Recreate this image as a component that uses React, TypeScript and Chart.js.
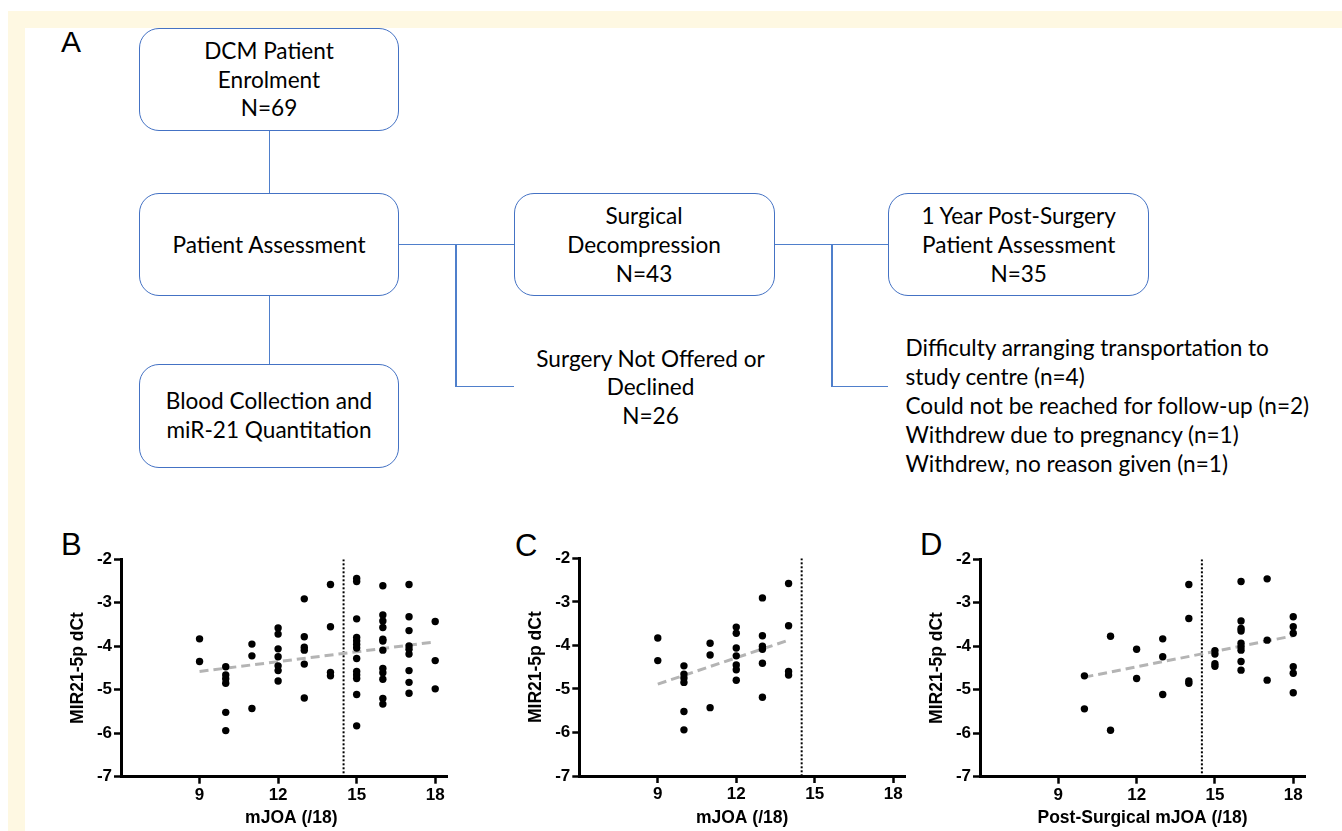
import React, { useEffect, useRef } from 'react';
import { Chart, registerables } from 'chart.js';

Chart.register(...registerables);

// ---------------- data ----------------
const xTickValues = [9, 12, 15, 18];
const yTickValues = [-7, -6, -5, -4, -3, -2];
const cutoffMJOA = 14.5;

// Panel B: all patients, pre-operative mJOA vs MIR21-5p dCt
const panelBX = [
  9, 9,
  10, 10, 10, 10, 10, 10,
  11, 11, 11,
  12, 12, 12, 12, 12, 12, 12,
  13, 13, 13, 13, 13, 13,
  14, 14, 14, 14,
  15, 15, 15, 15, 15, 15, 15, 15, 15, 15, 15, 15, 15,
  16, 16, 16, 16, 16, 16, 16, 16, 16, 16, 16, 16,
  17, 17, 17, 17, 17, 17, 17, 17, 17,
  18, 18, 18,
];
const panelBY = [
  -3.83, -4.35,
  -4.47, -4.66, -4.75, -4.85, -5.52, -5.94,
  -3.95, -4.22, -5.43,
  -3.58, -3.72, -4.06, -4.24, -4.45, -4.56, -4.80,
  -2.91, -3.78, -4.02, -4.09, -4.41, -5.19,
  -2.58, -3.55, -4.60, -4.68,
  -2.44, -2.51, -3.37, -3.80, -3.88, -3.96, -4.04, -4.28, -4.58, -4.66, -4.74, -5.11, -5.83,
  -2.61, -3.28, -3.42, -3.57, -3.84, -3.88, -4.09, -4.51, -4.61, -4.76, -5.20, -5.33,
  -2.58, -3.32, -3.64, -3.99, -4.07, -4.18, -4.56, -4.83, -5.08,
  -3.43, -4.33, -4.98,
];
const panelBFitX = [9, 18];
const panelBFitY = [-4.58, -3.9];

// Panel C: patients with mJOA <= 14
const panelCX = [
  9, 9,
  10, 10, 10, 10, 10, 10,
  11, 11, 11,
  12, 12, 12, 12, 12, 12, 12,
  13, 13, 13, 13, 13, 13,
  14, 14, 14, 14,
];
const panelCY = [
  -3.83, -4.35,
  -4.47, -4.66, -4.75, -4.85, -5.52, -5.94,
  -3.95, -4.22, -5.43,
  -3.58, -3.72, -4.06, -4.24, -4.45, -4.56, -4.80,
  -2.91, -3.78, -4.02, -4.09, -4.41, -5.19,
  -2.58, -3.55, -4.60, -4.68,
];
const panelCFitX = [9, 14];
const panelCFitY = [-4.89, -3.88];

// Panel D: post-surgical mJOA
const panelDX = [
  10, 10,
  11, 11,
  12, 12,
  13, 13, 13,
  14, 14, 14, 14,
  15, 15, 15, 15,
  16, 16, 16, 16, 16, 16, 16, 16, 16,
  17, 17, 17,
  18, 18, 18, 18, 18, 18,
];
const panelDY = [
  -4.68, -5.44,
  -3.77, -5.93,
  -4.07, -4.74,
  -3.83, -4.24, -5.11,
  -2.58, -3.36, -4.80, -4.85,
  -4.10, -4.18, -4.40, -4.46,
  -2.51, -3.42, -3.59, -3.65, -3.93, -4.01, -4.09, -4.35, -4.55,
  -2.45, -3.86, -4.78,
  -3.32, -3.55, -3.70, -4.47, -4.62, -5.07,
];
const panelDFitX = [10, 18];
const panelDFitY = [-4.71, -3.76];

const yAxisTitle = 'MIR21-5p dCt';

// ---------------- styles ----------------
const AXIS_FONT = "'Liberation Sans', Arial, Helvetica, sans-serif";
const FLOW_FONT = "Lato, 'Open Sans', 'Noto Sans', sans-serif";
const CREAM = '#FEF8E2';
const BOX_BLUE = '#4472C4';
const LINE_BLUE = '#4F7FCB';

type PanelProps = {
  left: number;
  top: number;
  width: number;
  height: number;
  xs: number[];
  ys: number[];
  fitX: number[];
  fitY: number[];
  xTitle: string;
  yScaleW: number;
  xScaleH: number;
  padTop: number;
  padRight: number;
};

function ScatterPanel(p: PanelProps) {
  const ref = useRef<HTMLCanvasElement | null>(null);
  useEffect(() => {
    if (!ref.current) return;
    const tickFont = { family: AXIS_FONT, size: 17, weight: 'bold' as const };
    const titleFont = { family: AXIS_FONT, size: 17.5, weight: 'bold' as const };
    const chart = new Chart(ref.current, {
      type: 'scatter',
      data: {
        datasets: [
          {
            type: 'scatter',
            data: p.xs.map((x, i) => ({ x, y: p.ys[i] })),
            pointRadius: 3.7,
            pointHoverRadius: 3.7,
            backgroundColor: '#000',
            borderWidth: 0,
            order: 0,
          } as any,
          {
            type: 'line',
            data: p.fitX.map((x, i) => ({ x, y: p.fitY[i] })),
            borderColor: '#b4b4b4',
            borderWidth: 3,
            borderDash: [9, 5],
            pointRadius: 0,
            fill: false,
            order: 1,
          } as any,
          {
            type: 'line',
            data: [
              { x: cutoffMJOA, y: yTickValues[yTickValues.length - 1] },
              { x: cutoffMJOA, y: yTickValues[0] },
            ],
            borderColor: '#000',
            borderWidth: 2,
            borderDash: [2, 2],
            pointRadius: 0,
            fill: false,
            order: 2,
          } as any,
        ],
      },
      options: {
        responsive: false,
        animation: false,
        events: [],
        layout: { padding: { left: 0, top: p.padTop, right: p.padRight, bottom: 0 } },
        plugins: { legend: { display: false }, tooltip: { enabled: false } },
        scales: {
          x: {
            type: 'linear',
            position: 'bottom',
            min: 6,
            max: 18.45,
            afterBuildTicks: (s: any) => {
              s.ticks = xTickValues.map((v) => ({ value: v }));
            },
            afterFit: (s: any) => {
              s.height = p.xScaleH;
            },
            border: { display: true, color: '#000', width: 3 },
            grid: {
              display: true,
              drawOnChartArea: false,
              drawTicks: true,
              tickLength: 7,
              tickWidth: 2.5,
              tickColor: '#000',
              color: '#000',
            },
            ticks: { color: '#000', font: tickFont, padding: 1.5, maxRotation: 0, autoSkip: false },
            title: {
              display: true,
              text: p.xTitle,
              color: '#000',
              font: titleFont,
              padding: { top: 0, bottom: 2.5 },
            },
          },
          y: {
            type: 'linear',
            min: yTickValues[0],
            max: yTickValues[yTickValues.length - 1],
            afterBuildTicks: (s: any) => {
              s.ticks = yTickValues.map((v) => ({ value: v }));
            },
            afterFit: (s: any) => {
              s.width = p.yScaleW;
            },
            border: { display: true, color: '#000', width: 3 },
            grid: {
              display: true,
              drawOnChartArea: false,
              drawTicks: true,
              tickLength: 7,
              tickWidth: 2.5,
              tickColor: '#000',
              color: '#000',
            },
            ticks: { color: '#000', font: tickFont, padding: 2, autoSkip: false },
            title: {
              display: true,
              text: yAxisTitle,
              color: '#000',
              font: titleFont,
              padding: { top: 7.5, bottom: 0 },
            },
          },
        },
      } as any,
    });
    return () => chart.destroy();
  }, []);
  return (
    <canvas
      ref={ref}
      width={p.width}
      height={p.height}
      style={{ position: 'absolute', left: p.left, top: p.top, width: p.width, height: p.height }}
    />
  );
}

function Box({ l, t, w, h }: { l: number; t: number; w: number; h: number }) {
  return (
    <div
      style={{
        position: 'absolute',
        left: l,
        top: t,
        width: w,
        height: h,
        border: `1.6px solid ${BOX_BLUE}`,
        borderRadius: 20,
        boxSizing: 'border-box',
      }}
    />
  );
}

function HLine({ x1, x2, y }: { x1: number; x2: number; y: number }) {
  return (
    <div style={{ position: 'absolute', left: x1, top: y - 0.75, width: x2 - x1, height: 1.5, background: LINE_BLUE }} />
  );
}

function VLine({ x, y1, y2 }: { x: number; y1: number; y2: number }) {
  return (
    <div style={{ position: 'absolute', left: x - 0.75, top: y1, width: 1.5, height: y2 - y1, background: LINE_BLUE }} />
  );
}

function Lines({ cx, cys, texts, align }: { cx: number; cys: number[]; texts: string[]; align?: 'left' | 'center' }) {
  return (
    <>
      {texts.map((t, i) => (
        <div
          key={i}
          style={{
            position: 'absolute',
            left: align === 'left' ? cx : cx - 250,
            top: cys[i] - 15.3,
            width: 500,
            textAlign: align === 'left' ? 'left' : 'center',
            fontFamily: FLOW_FONT,
            fontSize: 22.6,
            lineHeight: '29px',
            color: '#000',
            whiteSpace: 'nowrap',
          }}
        >
          {t}
        </div>
      ))}
    </>
  );
}

function Letter({ x, y, text, size }: { x: number; y: number; text: string; size: number }) {
  return (
    <div
      style={{
        position: 'absolute',
        left: x,
        top: y,
        fontFamily: AXIS_FONT,
        fontSize: size,
        lineHeight: 1,
        color: '#000',
      }}
    >
      {text}
    </div>
  );
}

export default function App() {
  return (
    <div
      style={{
        position: 'absolute',
        left: 0,
        top: 0,
        width: 1342,
        height: 831,
        overflow: 'hidden',
        background: '#fff',
      }}
    >
      {/* cream frame */}
      <div style={{ position: 'absolute', left: 8, top: 11, width: 1334, height: 17, background: CREAM }} />
      <div style={{ position: 'absolute', left: 8, top: 11, width: 17, height: 820, background: CREAM }} />

      {/* Panel A flowchart */}
      <Letter x={61} y={27} text="A" size={30} />
      <Box l={139} t={28} w={260} h={103} />
      <Box l={139} t={193} w={260} h={103} />
      <Box l={139} t={364} w={260} h={104} />
      <Box l={513.5} t={193} w={261} h={103} />
      <Box l={888} t={193} w={261} h={103} />

      <VLine x={269.6} y1={131} y2={193} />
      <VLine x={269.6} y1={296} y2={364} />
      <HLine x1={399} x2={513.5} y={244.3} />
      <VLine x={456} y1={244.3} y2={387.4} />
      <HLine x1={456} x2={513.5} y={386.7} />
      <HLine x1={774.5} x2={888} y={244.3} />
      <VLine x={832} y1={244.3} y2={387.4} />
      <HLine x1={832} x2={888} y={386.7} />

      <Lines cx={269} cys={[51, 80, 108.5]} texts={['DCM Patient', 'Enrolment', 'N=69']} />
      <Lines cx={269} cys={[245.5]} texts={['Patient Assessment']} />
      <Lines cx={269} cys={[401, 430]} texts={['Blood Collection and', 'miR-21 Quantitation']} />
      <Lines cx={644} cys={[216, 245, 274]} texts={['Surgical', 'Decompression', 'N=43']} />
      <Lines cx={650.5} cys={[359.3, 387.7, 416.7]} texts={['Surgery Not Offered or', 'Declined', 'N=26']} />
      <Lines cx={1018.7} cys={[216, 245, 274]} texts={['1 Year Post-Surgery', 'Patient Assessment', 'N=35']} />
      <Lines
        cx={905.5}
        align="left"
        cys={[348.5, 377.5, 406.5, 435.5, 464.5]}
        texts={[
          'Difficulty arranging transportation to',
          'study centre (n=4)',
          'Could not be reached for follow-up (n=2)',
          'Withdrew due to pregnancy (n=1)',
          'Withdrew, no reason given (n=1)',
        ]}
      />

      {/* Panels B, C, D */}
      <Letter x={61} y={529} text="B" size={31} />
      <Letter x={515} y={530} text="C" size={31} />
      <Letter x={920} y={529} text="D" size={31} />

      <ScatterPanel
        left={60}
        top={530}
        width={400}
        height={301}
        xs={panelBX}
        ys={panelBY}
        fitX={panelBFitX}
        fitY={panelBFitY}
        xTitle={'   mJOA (/18)'}
        yScaleW={61}
        xScaleH={54.3}
        padTop={29.3}
        padRight={13}
      />
      <ScatterPanel
        left={518}
        top={530}
        width={400}
        height={301}
        xs={panelCX}
        ys={panelCY}
        fitX={panelCFitX}
        fitY={panelCFitY}
        xTitle="mJOA (/18)"
        yScaleW={61.3}
        xScaleH={55}
        padTop={28.3}
        padRight={13}
      />
      <ScatterPanel
        left={919}
        top={530}
        width={400}
        height={301}
        xs={panelDX}
        ys={panelDY}
        fitX={panelDFitX}
        fitY={panelDFitY}
        xTitle="Post-Surgical mJOA (/18)"
        yScaleW={61}
        xScaleH={54.3}
        padTop={29.3}
        padRight={14}
      />
    </div>
  );
}
